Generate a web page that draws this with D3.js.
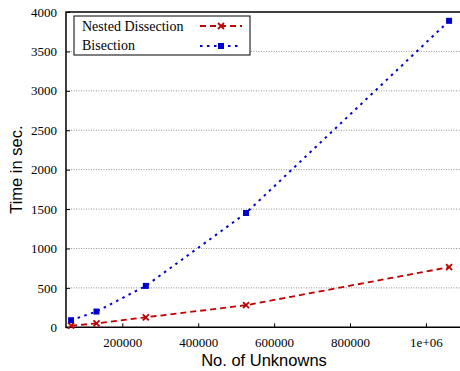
<!DOCTYPE html>
<meta charset="utf-8">
<head>
<style>
body { margin: 0; background: #fff; }
.grid line { stroke: #777; stroke-width: 0.8; stroke-dasharray: 1,1.5; }
.title { font-family: "Liberation Sans", Arial, sans-serif; font-size: 16.5px; fill: #000; }
.legend text { font-family: "Liberation Serif", serif; font-size: 14px; fill: #000; }
svg .tick text { font-family: "Liberation Serif", serif !important; font-size: 13px !important; fill: #000; }
</style>
</head>
<body>
<svg></svg>
<script src="https://d3js.org/d3.v7.min.js"></script>
<script>
// values
var unknowns = [65000, 132000, 262000, 526000, 1061000];
var nestedDissection = [20, 50, 127, 280, 763];
var bisection = [90, 200, 525, 1450, 3888];
var yTicks = [0, 500, 1000, 1500, 2000, 2500, 3000, 3500, 4000];
var xTicks = [200000, 400000, 600000, 800000, 1000000];
var seriesNames = ["Nested Dissection", "Bisection"];

var margin = { top: 12, right: 0, bottom: 43.7, left: 66 };
var width = 460 - margin.left - margin.right;
var height = 371 - margin.top - margin.bottom;

var svg = d3.select('svg')
  .attr('width', 460)
  .attr('height', 371);

var g = svg.append('g')
  .attr('transform', 'translate(' + margin.left + ',' + margin.top + ')');

var x = d3.scaleLinear().domain([51650, 1089800]).range([0, width]);
var y = d3.scaleLinear().domain([0, 4000]).range([height, 0]);

// grid
g.append('g').attr('class', 'grid')
  .selectAll('line')
  .data(yTicks.slice(1, -1))
  .enter().append('line')
  .attr('x1', 0).attr('x2', width)
  .attr('y1', function (d) { return y(d); })
  .attr('y2', function (d) { return y(d); });

// axes (ticks drawn inward)
var yAxis = g.append('g')
  .call(d3.axisLeft(y).tickValues(yTicks).tickSizeInner(-4).tickSizeOuter(0).tickPadding(9)
    .tickFormat(d3.format('d')));
var xAxis = g.append('g')
  .attr('transform', 'translate(0,' + height + ')')
  .call(d3.axisBottom(x).tickValues(xTicks).tickSizeInner(-4).tickSizeOuter(0).tickPadding(10)
    .tickFormat(function (d) { return d === 1000000 ? '1e+06' : String(d); }));
[yAxis, xAxis].forEach(function (a) {
  a.select('.domain').remove();
  a.selectAll('.tick line').attr('stroke', '#000').attr('stroke-width', 1);
  a.selectAll('.tick text')
    .style('font-family', '"Liberation Serif", serif')
    .style('font-size', '13px');
});

// frame: left, bottom, top
g.append('path')
  .attr('d', 'M' + width + ',0H0V' + height + 'H' + width)
  .attr('fill', 'none').attr('stroke', '#000').attr('stroke-width', 1.5);

var line = d3.line()
  .x(function (d) { return x(d[0]); })
  .y(function (d) { return y(d[1]); });

var red = '#c00000', blue = '#0000cc';
var redDash = '6,4', blueDash = '2.5,4.5';

function cross(sel, cx, cy, color) {
  sel.append('path')
    .attr('d', 'M' + (cx - 3) + ',' + (cy - 3) + 'L' + (cx + 3) + ',' + (cy + 3) +
      'M' + (cx - 3) + ',' + (cy + 3) + 'L' + (cx + 3) + ',' + (cy - 3))
    .attr('stroke', color).attr('stroke-width', 1.8).attr('fill', 'none');
}
function square(sel, cx, cy, color) {
  sel.append('rect')
    .attr('x', cx - 3).attr('y', cy - 3).attr('width', 6).attr('height', 6)
    .attr('fill', color);
}

var ndData = unknowns.map(function (u, i) { return [u, nestedDissection[i]]; });
var biData = unknowns.map(function (u, i) { return [u, bisection[i]]; });

g.append('path').datum(ndData).attr('d', line)
  .attr('fill', 'none').attr('stroke', red).attr('stroke-width', 1.8)
  .attr('stroke-dasharray', redDash);
g.append('path').datum(biData).attr('d', line)
  .attr('fill', 'none').attr('stroke', blue).attr('stroke-width', 2)
  .attr('stroke-dasharray', blueDash);

ndData.forEach(function (d) { cross(g, x(d[0]), y(d[1]), red); });
biData.forEach(function (d) { square(g, x(d[0]), y(d[1]), blue); });

// legend
var leg = svg.append('g').attr('class', 'legend');
leg.append('rect')
  .attr('x', 74).attr('y', 16).attr('width', 176).attr('height', 39)
  .attr('fill', '#fff').attr('stroke', '#000').attr('stroke-width', 1);
leg.append('text').attr('x', 82).attr('y', 31).text(seriesNames[0]);
leg.append('text').attr('x', 82).attr('y', 50).text(seriesNames[1]);
leg.append('line').attr('x1', 200).attr('x2', 242).attr('y1', 26).attr('y2', 26)
  .attr('stroke', red).attr('stroke-width', 1.8).attr('stroke-dasharray', redDash);
cross(leg, 221, 26, red);
leg.append('line').attr('x1', 200).attr('x2', 242).attr('y1', 46).attr('y2', 46)
  .attr('stroke', blue).attr('stroke-width', 2).attr('stroke-dasharray', blueDash);
square(leg, 221, 46, blue);

// axis titles
svg.append('text').attr('class', 'title')
  .attr('x', 264).attr('y', 366)
  .attr('text-anchor', 'middle').text('No. of Unknowns');
svg.append('text').attr('class', 'title')
  .attr('transform', 'translate(22,' + (margin.top + height / 2) + ') rotate(-90)')
  .attr('text-anchor', 'middle').text('Time in sec.');
</script>
</body>
</html>
